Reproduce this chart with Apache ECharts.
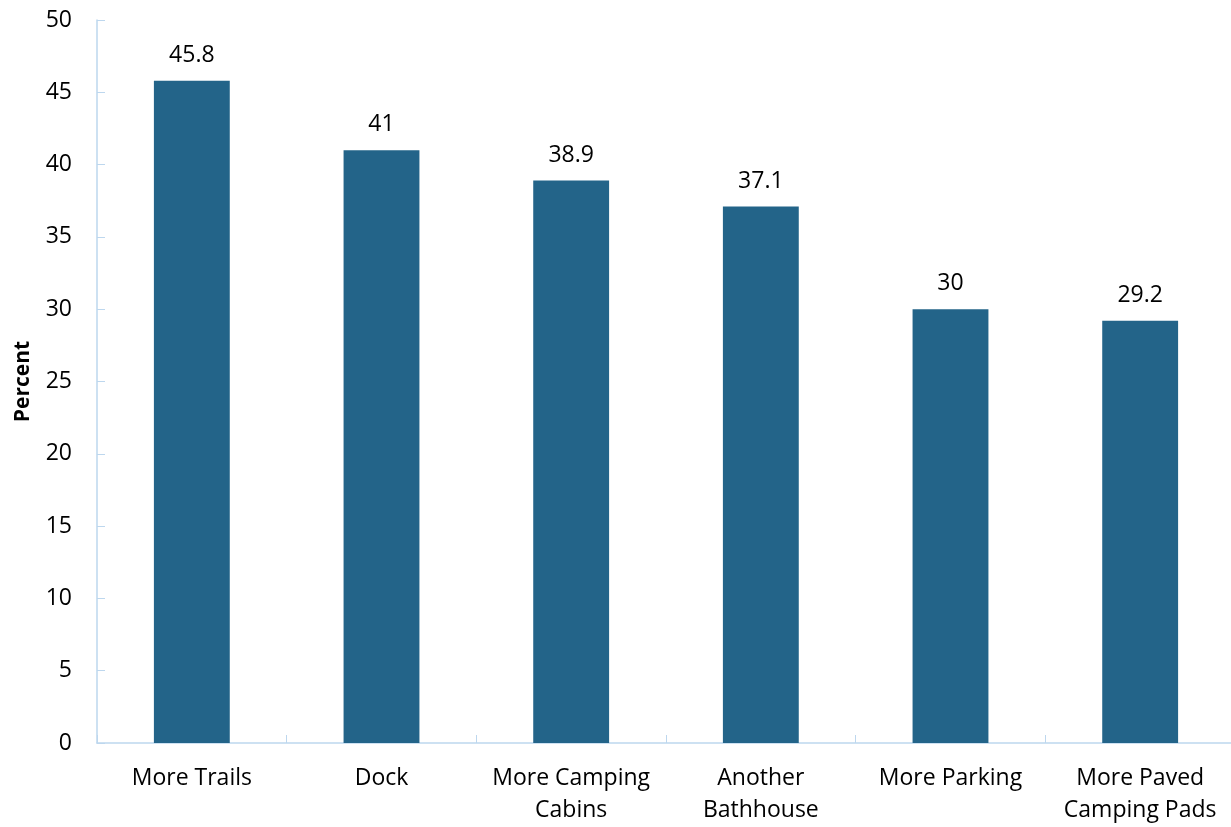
<!DOCTYPE html>
<html><head><meta charset="utf-8">
<script src="https://cdn.jsdelivr.net/npm/echarts@6/dist/echarts.min.js"></script>
<style>html,body{margin:0;padding:0;background:#fff}#c{width:1231px;height:827px}</style>
</head><body><div id="c"></div>
<script>
const categories = ["More Trails", "Dock", "More Camping\nCabins", "Another\nBathhouse", "More Parking", "More Paved\nCamping Pads"];
const values = [45.8, 41, 38.9, 37.1, 30, 29.2];
const yTicks = [0, 5, 10, 15, 20, 25, 30, 35, 40, 45, 50];
const yAxisName = "Percent";

const chart = echarts.init(document.getElementById('c'));
const font = "'Open Sans', sans-serif";
chart.setOption({
  animation: false,
  grid: { left: 97, right: -4, top: 20, bottom: 84, containLabel: false, outerBoundsMode: 'none' },
  xAxis: {
    type: 'category',
    data: categories,
    axisLine: { lineStyle: { color: '#BDD7EE', width: 1.5 } },
    axisTick: { show: true, inside: true, length: 8, alignWithLabel: false, lineStyle: { color: '#BDD7EE' } },
    axisLabel: { color: '#000', fontFamily: font, fontSize: 23, margin: 19, lineHeight: 32, interval: 0 }
  },
  yAxis: {
    type: 'value',
    min: yTicks[0], max: yTicks[yTicks.length - 1], interval: 5,
    name: yAxisName,
    nameLocation: 'middle',
    nameGap: 63,
    nameTextStyle: { color: '#000', fontFamily: font, fontSize: 21, fontWeight: 'bold' },
    axisLine: { show: true, lineStyle: { color: '#BDD7EE', width: 1.5 } },
    axisTick: { show: true, inside: true, length: 8, lineStyle: { color: '#BDD7EE' } },
    splitLine: { show: false },
    axisLabel: { color: '#000', fontFamily: font, fontSize: 23, margin: 25 }
  },
  series: [{
    type: 'bar',
    data: values,
    barWidth: '40%',
    itemStyle: { color: '#236489' },
    label: { show: true, position: 'top', distance: 14, color: '#000', fontFamily: font, fontSize: 23 }
  }]
});
</script></body></html>
